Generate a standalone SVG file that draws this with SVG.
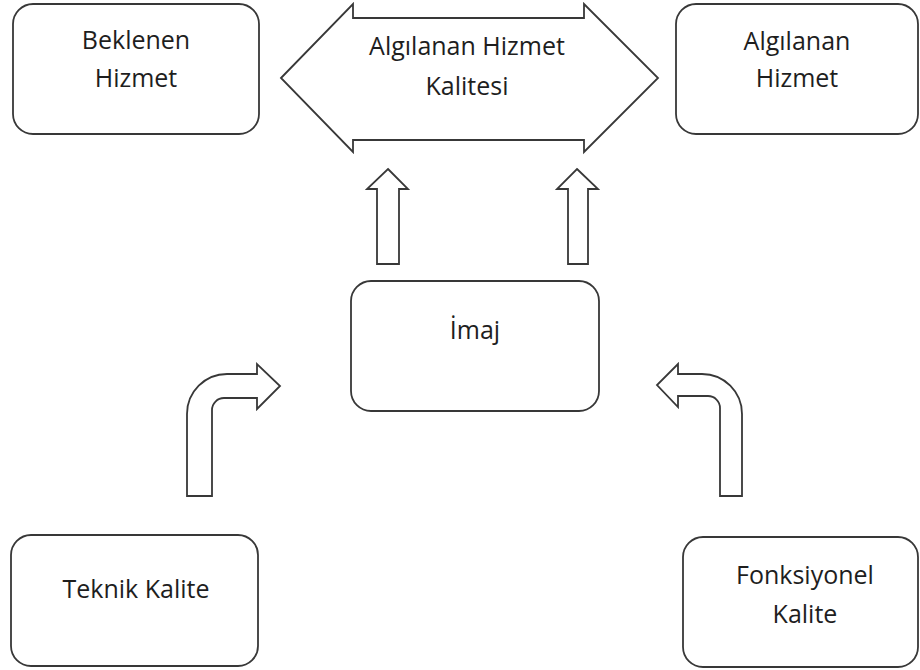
<svg xmlns="http://www.w3.org/2000/svg" width="920" height="670" viewBox="0 0 920 670">
<style>
.box{fill:#fff;stroke:#383838;stroke-width:1.8}
.arr{fill:#fff;stroke:#383838;stroke-width:1.8;stroke-linejoin:miter}
text{font-family:"Open Sans","Liberation Sans",sans-serif;font-size:25px;fill:#1e1e1e;text-anchor:middle}
</style>
<rect width="920" height="670" fill="#fff"/>
<g id="connectors">
<path class="arr" d="M388,169 L408,189 H399 V264 H377 V189 H367 Z"/>
<path class="arr" d="M577,169 L598,189 H588 V264 H568 V189 H557 Z"/>
<path class="arr" d="M187,496 V414 A40,40 0 0 1 227,374 H257 V364 L280,386 L257,409 V398 H224 A12,12 0 0 0 212,410 V496 Z"/>
<path class="arr" d="M742,496 V414 A40,40 0 0 0 702,374 H678 V364 L657,385 L678,407 V396 H708 A12,12 0 0 1 720,408 V496 Z"/>
</g>
<g id="algilanan-hizmet-kalitesi">
<path class="arr" d="M281,78 L353,4 V18 H584 V4 L658,78 L584,152 V140 H353 V152 Z"/>
<text x="467" y="55">Algılanan Hizmet</text>
<text x="467" y="95">Kalitesi</text>
</g>
<g id="beklenen-hizmet">
<rect class="box" x="13" y="4" width="246" height="130" rx="20"/>
<text x="136" y="49">Beklenen</text>
<text x="136" y="87">Hizmet</text>
</g>
<g id="algilanan-hizmet">
<rect class="box" x="676" y="4" width="242" height="130" rx="20"/>
<text x="797" y="50">Algılanan</text>
<text x="797" y="87">Hizmet</text>
</g>
<g id="imaj">
<rect class="box" x="351" y="281" width="248" height="130" rx="20"/>
<text x="475" y="339">İmaj</text>
</g>
<g id="teknik-kalite">
<rect class="box" x="11" y="535" width="247" height="131" rx="20"/>
<text x="136" y="598">Teknik Kalite</text>
</g>
<g id="fonksiyonel-kalite">
<rect class="box" x="683" y="537" width="235" height="130" rx="20"/>
<text x="805" y="584">Fonksiyonel</text>
<text x="805" y="623">Kalite</text>
</g>
</svg>
